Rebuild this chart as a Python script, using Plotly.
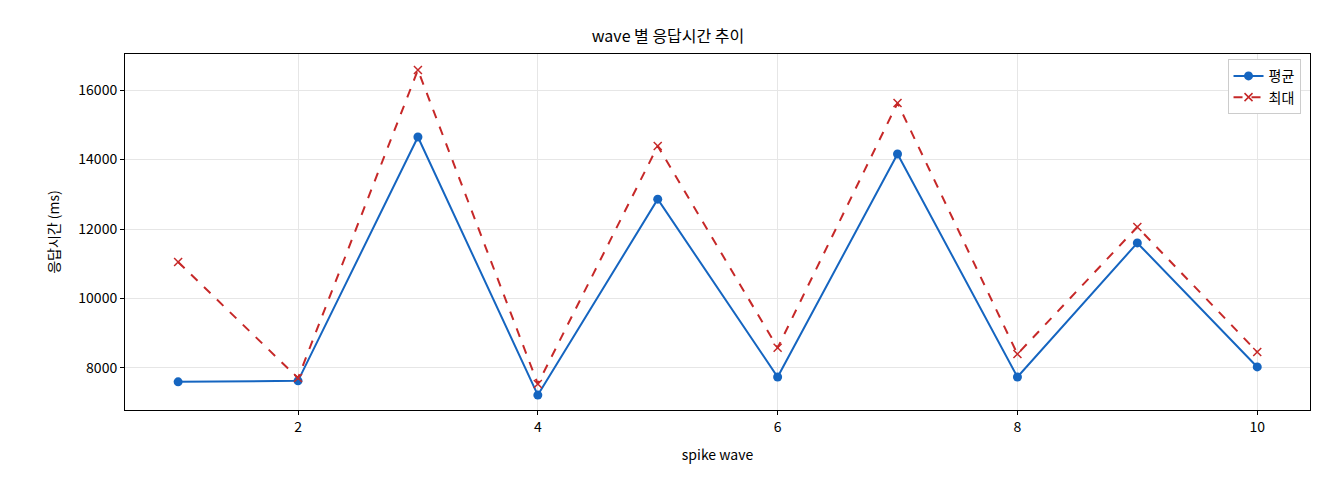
import plotly.graph_objects as go

waves = [1, 2, 3, 4, 5, 6, 7, 8, 9, 10]
avg_ms = [7600, 7630, 14650, 7220, 12860, 7740, 14160, 7740, 11600, 8030]
max_ms = [11050, 7710, 16580, 7540, 14390, 8580, 15630, 8400, 12060, 8460]

fig = go.Figure()
fig.add_trace(go.Scatter(x=waves, y=avg_ms, name="평균", mode="lines+markers",
                         line=dict(color="#1565c0", width=2),
                         marker=dict(symbol="circle", size=9, color="#1565c0")))
fig.add_trace(go.Scatter(x=waves, y=max_ms, name="최대", mode="lines+markers",
                         line=dict(color="#c62828", width=2, dash="dash"),
                         marker=dict(symbol="x-thin", size=8,
                                     line=dict(color="#c62828", width=1.5))))

axis = dict(showline=True, mirror=True, linecolor="black", linewidth=1,
            gridcolor="#e6e6e6", ticks="outside", ticklen=4, tickcolor="black",
            zeroline=False, automargin=False, tickfont=dict(size=14, color="black"))
fig.update_layout(
    width=1320, height=480,
    paper_bgcolor="white", plot_bgcolor="white",
    font=dict(family="Noto Sans CJK KR", color="black", size=14),
    title=dict(text="wave 별 응답시간 추이", x=0.5, xanchor="center", y=0.94,
               yanchor="middle", font=dict(size=16)),
    margin=dict(l=117, r=18, t=46, b=78, autoexpand=False),
    xaxis=dict(axis, range=[0.557, 10.44], tickvals=[2, 4, 6, 8, 10],
               title=dict(text="spike wave", font=dict(size=14))),
    yaxis=dict(axis, range=[6790, 17040], tickvals=[8000, 10000, 12000, 14000, 16000],
               tickformat="d",
               title=dict(text="응답시간 (ms)", font=dict(size=14))),
    legend=dict(x=0.992, y=0.985, xanchor="right", yanchor="top",
                bordercolor="#cccccc", borderwidth=1, bgcolor="white",
                font=dict(size=14)),
)
fig.write_html("out.html")
